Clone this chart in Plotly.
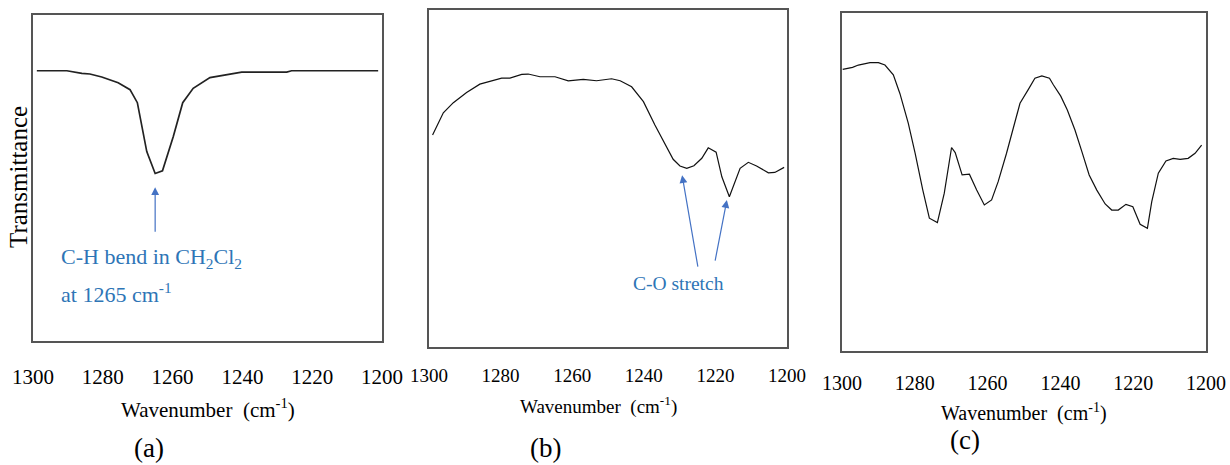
import plotly.graph_objects as go

# ---- data ----
wn_a = [1298.9, 1290.3, 1286.0, 1283.7, 1280.3, 1275.6, 1272.2, 1270.1, 1267.4, 1265.0,
        1262.9, 1259.8, 1257.1, 1254.1, 1249.3, 1244.5, 1240.2, 1235.9, 1227.3, 1225.9, 1201.1]
tr_a = [82.9, 82.9, 82.1, 81.9, 81.0, 79.2, 77.1, 73.1, 58.1, 51.4,
        52.2, 62.7, 73.1, 77.5, 80.8, 81.7, 82.5, 82.5, 82.5, 82.9, 82.9]

wn_b = [1299.0, 1296.0, 1293.2, 1289.5, 1285.8, 1282.5, 1279.7, 1277.4, 1274.1, 1272.3,
        1269.0, 1264.8, 1261.1, 1256.9, 1253.2, 1249.0, 1246.6, 1243.4, 1240.1, 1236.9,
        1233.6, 1231.8, 1229.9, 1228.0, 1226.0, 1223.8, 1222.0, 1219.8, 1218.2, 1216.1,
        1213.1, 1210.8, 1208.5, 1205.2, 1203.4, 1200.8]
tr_b = [62.9, 69.5, 72.5, 75.5, 78.0, 79.0, 79.8, 79.8, 80.9, 81.0,
        80.2, 80.2, 79.0, 79.4, 79.0, 79.6, 79.0, 77.2, 72.8, 65.9,
        59.0, 55.7, 53.7, 53.0, 53.8, 56.0, 59.1, 57.8, 50.5, 44.6,
        53.0, 54.8, 53.7, 51.7, 51.8, 53.3]

wn_c = [1299.8, 1297.1, 1295.5, 1292.3, 1290.0, 1288.2, 1285.9, 1284.1, 1281.8, 1279.9,
        1277.8, 1276.0, 1273.8, 1271.9, 1269.9, 1268.9, 1267.0, 1265.0, 1263.0, 1260.9,
        1258.9, 1257.1, 1254.8, 1253.1, 1251.1, 1248.8, 1247.0, 1245.1, 1243.0, 1241.9,
        1239.9, 1238.1, 1236.0, 1234.1, 1232.1, 1230.0, 1227.7, 1225.9, 1224.1, 1222.0,
        1220.1, 1218.1, 1216.1, 1214.9, 1213.1, 1211.0, 1209.0, 1207.1, 1204.9, 1203.0, 1201.2]
tr_c = [83.3, 83.9, 84.6, 85.3, 85.3, 84.6, 81.7, 76.2, 67.4, 58.5,
        47.6, 39.3, 38.0, 46.7, 60.2, 58.7, 52.1, 52.3, 47.6, 43.2,
        44.7, 50.1, 58.5, 65.6, 73.3, 77.4, 80.7, 81.4, 80.7, 78.7,
        75.4, 71.3, 65.4, 59.0, 52.1, 47.6, 43.5, 41.7, 41.7, 43.4,
        42.7, 37.5, 36.3, 44.2, 52.6, 56.2, 57.0, 56.7, 57.0, 58.5, 60.9]

tick_vals = [1300, 1280, 1260, 1240, 1220, 1200]
tick_text = ["1300", "1280", "1260", "1240", "1220", "1200"]

W, H = 1230, 465
FONT = "Liberation Serif"
BLUE_TXT = "#2E75B6"
BLUE_ARR = "#4472C4"

def px_x(x):
    return x / W

def px_y(y):
    return 1 - y / H

fig = go.Figure()
fig.add_trace(go.Scatter(x=wn_a, y=tr_a, mode="lines", line=dict(color="#222222", width=1.7),
                         xaxis="x", yaxis="y", showlegend=False))
fig.add_trace(go.Scatter(x=wn_b, y=tr_b, mode="lines", line=dict(color="#111111", width=1.2),
                         xaxis="x2", yaxis="y2", showlegend=False))
fig.add_trace(go.Scatter(x=wn_c, y=tr_c, mode="lines", line=dict(color="#111111", width=1.2),
                         xaxis="x3", yaxis="y3", showlegend=False))

def xax(domain, anchor, size, ticklen):
    return dict(domain=domain, anchor=anchor, range=[1300, 1200], tickvals=tick_vals,
                ticktext=tick_text, ticks="outside", ticklen=ticklen, automargin=False,
                tickcolor="rgba(0,0,0,0)", showgrid=False, zeroline=False,
                showline=True, mirror=True, linecolor="#555555", linewidth=1.5,
                tickfont=dict(family=FONT, size=size, color="#000000"))

def yax(domain, anchor):
    return dict(domain=domain, anchor=anchor, range=[0, 100], showticklabels=False,
                ticks="", showgrid=False, zeroline=False, showline=True, mirror=True,
                automargin=False, linecolor="#555555", linewidth=1.5)

fig.update_layout(
    width=W, height=H, margin=dict(l=0, r=0, t=0, b=0, autoexpand=False),
    paper_bgcolor="white", plot_bgcolor="white",
    font=dict(family=FONT),
    xaxis=xax([px_x(33), px_x(382)], "y", 21, 16),
    yaxis=yax([px_y(341), px_y(15)], "x"),
    xaxis2=xax([px_x(429), px_x(787)], "y2", 19, 10),
    yaxis2=yax([px_y(347), px_y(10)], "x2"),
    xaxis3=xax([px_x(842), px_x(1206)], "y3", 20, 13),
    yaxis3=yax([px_y(351), px_y(13)], "x3"),
)

ann = []
def paper_text(text, x, y, size, color="#000000", xanchor="center", angle=0):
    ann.append(dict(text=text, x=px_x(x), y=px_y(y), xref="paper", yref="paper",
                    xanchor=xanchor, yanchor="middle", showarrow=False, textangle=angle,
                    font=dict(family=FONT, size=size, color=color)))

paper_text("Wavenumber\u00a0 (cm<sup>-1</sup>)", 208, 408, 21)
paper_text("Wavenumber\u00a0 (cm<sup>-1</sup>)", 598, 405, 19)
paper_text("Wavenumber\u00a0 (cm<sup>-1</sup>)", 1024, 412, 20)
paper_text("(a)", 149, 448, 27)
paper_text("(b)", 545, 448, 27)
paper_text("(c)", 965, 440, 27)
paper_text("Transmittance", 18, 177, 25, angle=-90)
paper_text("C-H bend in CH<sub>2</sub>Cl<sub>2</sub>", 59, 258, 22, BLUE_TXT, xanchor="left")
paper_text("at 1265 cm<sup>-1</sup>", 59, 293, 22, BLUE_TXT, xanchor="left")
paper_text("C-O stretch", 678, 283, 19.5, BLUE_TXT)

def arrow(xref, yref, x, y, ax, ay):
    ann.append(dict(text="", x=x, y=y, xref=xref, yref=yref, ax=ax, ay=ay,
                    showarrow=True, arrowhead=2, arrowsize=1.3, arrowwidth=1.2,
                    arrowcolor=BLUE_ARR))

arrow("x", "y", 1265.0, 47.2, 0, 46)
arrow("x2", "y2", 1229.3, 51.0, 16, 93)
arrow("x2", "y2", 1216.8, 43.6, -12, 62)

fig.update_layout(annotations=ann)
fig.write_html("out.html")
